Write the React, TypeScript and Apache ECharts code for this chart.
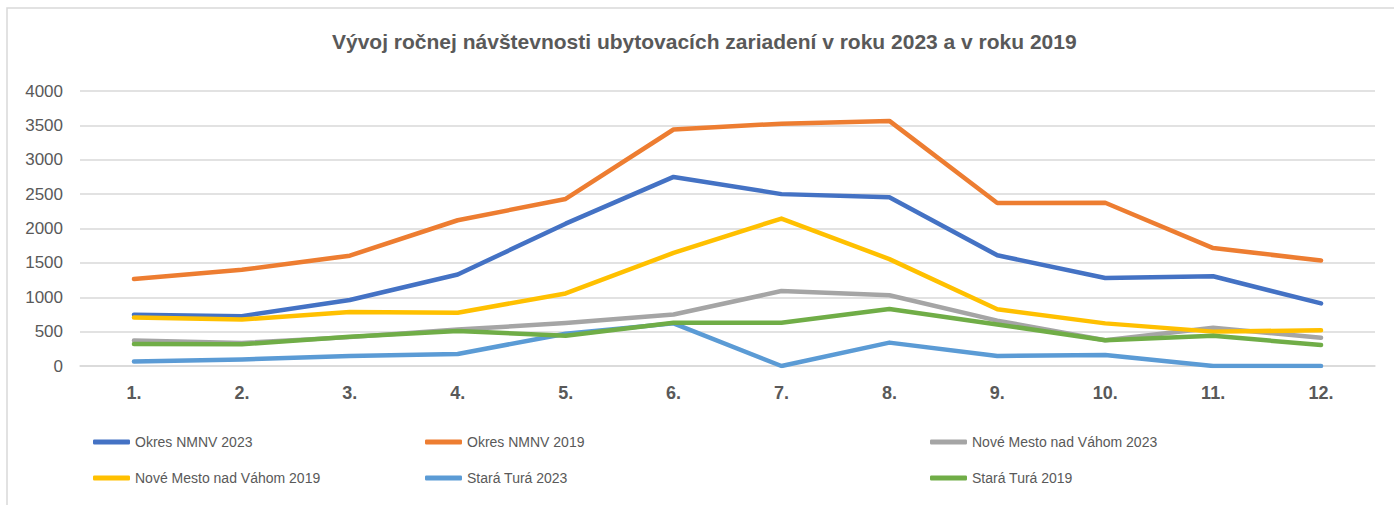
import React, { useEffect, useRef } from "react";
import * as echarts from "echarts";

const categories = ["1.", "2.", "3.", "4.", "5.", "6.", "7.", "8.", "9.", "10.", "11.", "12."];
const seriesNames = [
  "Okres NMNV 2023",
  "Okres NMNV 2019",
  "Nové Mesto nad Váhom 2023",
  "Nové Mesto nad Váhom 2019",
  "Stará Turá 2023",
  "Stará Turá 2019",
];
const okres2023 = [745, 725, 960, 1330, 2070, 2750, 2500, 2455, 1610, 1280, 1305, 910];
const okres2019 = [1265, 1400, 1605, 2120, 2430, 3440, 3525, 3565, 2370, 2375, 1715, 1535];
const nmnv2023 = [370, 335, 420, 530, 625, 750, 1090, 1030, 660, 375, 555, 410];
const nmnv2019 = [705, 675, 785, 775, 1055, 1645, 2145, 1555, 825, 620, 500, 520];
const stara2023 = [65, 95, 145, 175, 470, 620, 0, 340, 145, 160, 0, 0];
const stara2019 = [320, 315, 425, 510, 440, 630, 630, 830, 605, 375, 440, 305];
const yTicks = { min: 0, max: 4000, interval: 500 };
const colors = ["#4472C4", "#ED7D31", "#A5A5A5", "#FFC000", "#5B9BD5", "#70AD47"];
const values = [okres2023, okres2019, nmnv2023, nmnv2019, stara2023, stara2019];

const FONT = "'Liberation Sans', Arial, sans-serif";
const legendPos = [
  [93, 434],
  [425, 434],
  [930, 434],
  [93, 470],
  [425, 470],
  [930, 470],
];

export default function App() {
  const ref = useRef<HTMLDivElement>(null);
  useEffect(() => {
    if (!ref.current) return;
    const chart = echarts.init(ref.current, undefined, { renderer: "svg" });
    chart.setOption({
      animation: false,
      backgroundColor: "#ffffff",
      title: {
        text: "Vývoj ročnej návštevnosti ubytovacích zariadení v roku 2023 a v roku 2019",
        left: 332,
        top: 31,
        padding: 0,
        textStyle: { fontFamily: FONT, fontSize: 21, fontWeight: "bold", color: "#595959" },
      },
      graphic: [
        {
          type: "rect",
          shape: { x: 7, y: 8, width: 1400, height: 520 },
          style: { fill: "none", stroke: "#d9d9d9", lineWidth: 1.5 },
          silent: true,
        },
      ],
      legend: seriesNames.map((name, i) => ({
        data: [name],
        left: legendPos[i][0],
        top: legendPos[i][1],
        padding: 0,
        icon: "roundRect",
        itemWidth: 37,
        itemHeight: 5,
        itemGap: 7,
        selectedMode: false,
        textStyle: { fontFamily: FONT, fontSize: 14, color: "#595959", lineHeight: 16 },
      })),
      grid: { left: 80, right: 19, top: 91, bottom: 139 },
      xAxis: {
        type: "category",
        data: categories,
        boundaryGap: true,
        axisLine: { show: true, lineStyle: { color: "#d9d9d9", width: 1.5 } },
        axisTick: { show: false },
        axisLabel: { fontFamily: FONT, fontSize: 18, fontWeight: "bold", color: "#595959", margin: 18 },
      },
      yAxis: {
        type: "value",
        min: yTicks.min,
        max: yTicks.max,
        interval: yTicks.interval,
        axisLine: { show: false },
        axisTick: { show: false },
        splitLine: { lineStyle: { color: "#d9d9d9", width: 1.5 } },
        axisLabel: {
          fontFamily: FONT,
          fontSize: 17,
          color: "#595959",
          margin: 17,
          formatter: (v: number) => String(v),
        },
      },
      series: seriesNames.map((name, i) => ({
        name,
        type: "line",
        data: values[i],
        symbol: "none",
        color: colors[i],
        lineStyle: { color: colors[i], width: 4.5, cap: "round", join: "round" },
      })),
    });
    return () => chart.dispose();
  }, []);
  return <div ref={ref} style={{ position: "absolute", left: 0, top: 0, width: 1394, height: 505 }} />;
}
